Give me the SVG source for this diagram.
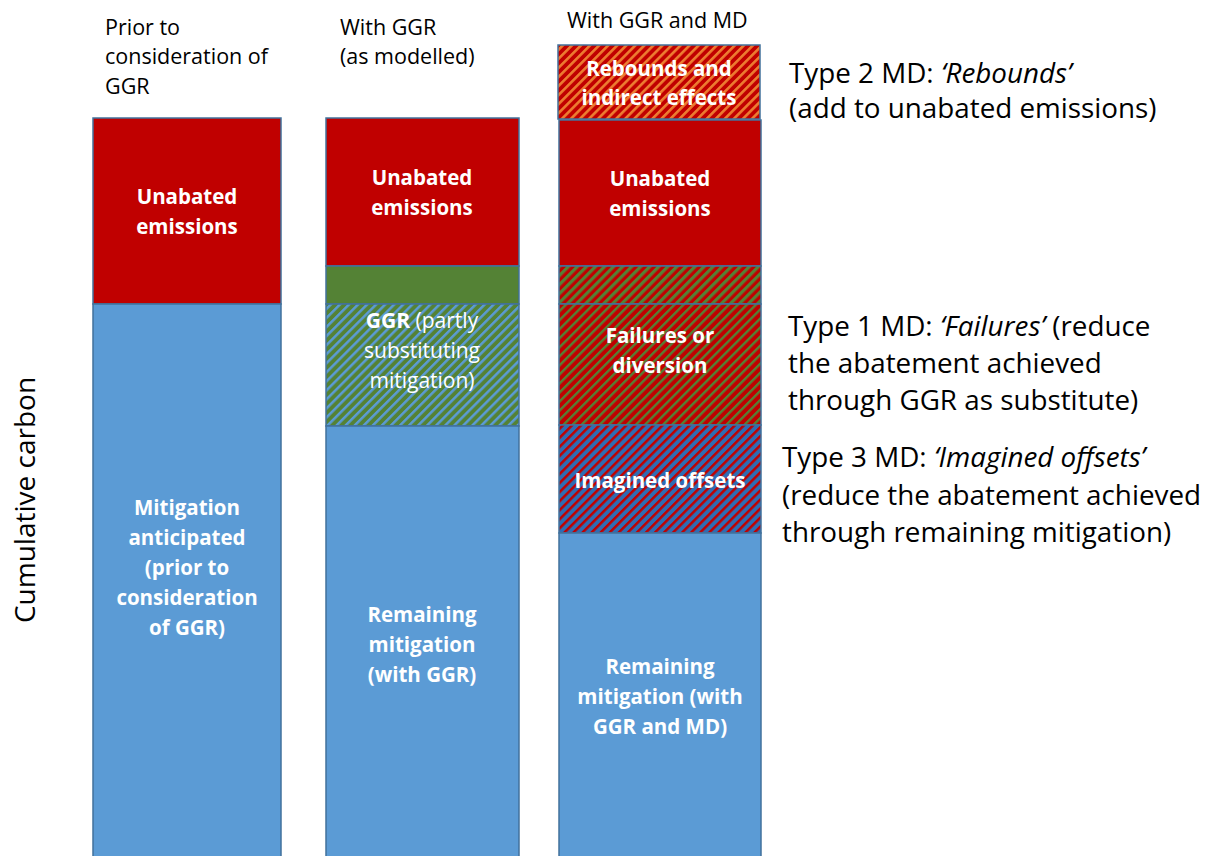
<svg xmlns="http://www.w3.org/2000/svg" width="1207" height="856" viewBox="0 0 1207 856">
<style>
.seg{stroke:#41719C;stroke-width:1.5}
.red{fill:#C00000}
.blue{fill:#5B9BD5}
.green{fill:#548235}
.bt{font-family:"Open Sans","Noto Sans",sans-serif;font-weight:bold;font-size:20.5px;fill:#FFFFFF;text-anchor:middle}
.bn{font-family:"Open Sans","Noto Sans",sans-serif;font-weight:normal;font-size:21px;fill:#FFFFFF;text-anchor:middle}
.hd{font-family:"Open Sans","Noto Sans",sans-serif;font-size:21.5px;fill:#000000}
.rt{font-family:"Open Sans","Noto Sans",sans-serif;font-size:27.8px;fill:#000000}
.it{font-style:italic}
</style>
<defs>
<pattern id="pGreenBlue" width="6.4" height="6.4" patternUnits="userSpaceOnUse" patternTransform="rotate(45)">
<rect width="6.4" height="6.4" fill="#548235"/><rect width="2.5" height="6.4" fill="#5B9BD5"/>
</pattern>
<pattern id="pRedOrange" width="6.4" height="6.4" patternUnits="userSpaceOnUse" patternTransform="rotate(45)">
<rect width="6.4" height="6.4" fill="#C00000"/><rect width="2.6" height="6.4" fill="#ED7D31"/>
</pattern>
<pattern id="pRedGreenEq" width="6.4" height="6.4" patternUnits="userSpaceOnUse" patternTransform="rotate(45)">
<rect width="6.4" height="6.4" fill="#C00000"/><rect width="3.2" height="6.4" fill="#548235"/>
</pattern>
<pattern id="pRedGreen" width="6.4" height="6.4" patternUnits="userSpaceOnUse" patternTransform="rotate(45)">
<rect width="6.4" height="6.4" fill="#C00000"/><rect width="2.4" height="6.4" fill="#548235"/>
</pattern>
<pattern id="pBlueRed" width="6.4" height="6.4" patternUnits="userSpaceOnUse" patternTransform="rotate(45)">
<rect width="6.4" height="6.4" fill="#2E6DB4"/><rect width="2.5" height="6.4" fill="#C00000"/>
</pattern>
</defs>
<rect width="1207" height="856" fill="#FFFFFF"/>

<g id="axis-label">
<text class="hd" style="font-size:28px" text-anchor="middle" transform="translate(35,500) rotate(-90)">Cumulative carbon</text>
</g>

<g id="headers">
<text class="hd" x="105" y="35">Prior to</text>
<text class="hd" x="105" y="64">consideration of</text>
<text class="hd" x="105" y="94">GGR</text>
<text class="hd" x="340" y="35">With GGR</text>
<text class="hd" x="340" y="64">(as modelled)</text>
<text class="hd" x="567" y="28">With GGR and MD</text>
</g>

<g id="col1">
<g id="col1-unabated">
<rect class="seg red" x="93" y="118" width="188" height="186"/>
<text class="bt" x="187" y="204">Unabated</text>
<text class="bt" x="187" y="234">emissions</text>
</g>
<g id="col1-mitigation">
<rect class="seg blue" x="93" y="304" width="188" height="560"/>
<text class="bt" x="187" y="515">Mitigation</text>
<text class="bt" x="187" y="545">anticipated</text>
<text class="bt" x="187" y="575">(prior to</text>
<text class="bt" x="187" y="605">consideration</text>
<text class="bt" x="187" y="635">of GGR)</text>
</g>
</g>

<g id="col2">
<g id="col2-unabated">
<rect class="seg red" x="326" y="118" width="193" height="148"/>
<text class="bt" x="422" y="185">Unabated</text>
<text class="bt" x="422" y="215">emissions</text>
</g>
<g id="col2-ggr-green">
<rect class="seg green" x="326" y="266" width="193" height="38"/>
</g>
<g id="col2-ggr">
<rect class="seg" fill="url(#pGreenBlue)" x="326" y="304" width="193" height="122"/>
<text class="bn" x="422" y="328"><tspan font-weight="bold">GGR</tspan> (partly</text>
<text class="bn" x="422" y="358">substituting</text>
<text class="bn" x="422" y="388">mitigation)</text>
</g>
<g id="col2-remaining">
<rect class="seg blue" x="326" y="426" width="193" height="438"/>
<text class="bt" x="422" y="622">Remaining</text>
<text class="bt" x="422" y="652">mitigation</text>
<text class="bt" x="422" y="682">(with GGR)</text>
</g>
</g>

<g id="col3">
<g id="col3-rebounds">
<rect class="seg" fill="url(#pRedOrange)" x="558" y="45" width="202" height="74"/>
<text class="bt" x="659" y="76">Rebounds and</text>
<text class="bt" x="659" y="105">indirect effects</text>
</g>
<g id="col3-unabated">
<rect class="seg red" x="559" y="120" width="202" height="146"/>
<text class="bt" x="660" y="186">Unabated</text>
<text class="bt" x="660" y="216">emissions</text>
</g>
<g id="col3-hatch-top">
<rect class="seg" fill="url(#pRedGreenEq)" x="559" y="266" width="202" height="38"/>
</g>
<g id="col3-failures">
<rect class="seg" fill="url(#pRedGreen)" x="559" y="304" width="202" height="121"/>
<text class="bt" x="660" y="343">Failures or</text>
<text class="bt" x="660" y="373">diversion</text>
</g>
<g id="col3-imagined">
<rect class="seg" fill="url(#pBlueRed)" x="559" y="425" width="202" height="108"/>
<text class="bt" x="660" y="488">Imagined offsets</text>
</g>
<g id="col3-remaining">
<rect class="seg blue" x="559" y="533" width="202" height="331"/>
<text class="bt" x="660" y="674">Remaining</text>
<text class="bt" x="660" y="704">mitigation (with</text>
<text class="bt" x="660" y="734">GGR and MD)</text>
</g>
</g>

<g id="notes">
<g id="note-type2">
<text class="rt" x="789" y="83">Type 2 MD: <tspan class="it">‘Rebounds’</tspan></text>
<text class="rt" x="789" y="118">(add to unabated emissions)</text>
</g>
<g id="note-type1">
<text class="rt" x="788" y="336">Type 1 MD: <tspan class="it">‘Failures’</tspan> (reduce</text>
<text class="rt" x="788" y="373">the abatement achieved</text>
<text class="rt" x="788" y="410">through GGR as substitute)</text>
</g>
<g id="note-type3">
<text class="rt" x="782" y="467">Type 3 MD: <tspan class="it">‘Imagined offsets’</tspan></text>
<text class="rt" x="782" y="505">(reduce the abatement achieved</text>
<text class="rt" x="782" y="542">through remaining mitigation)</text>
</g>
</g>
<g id="connectors"/>
</svg>
